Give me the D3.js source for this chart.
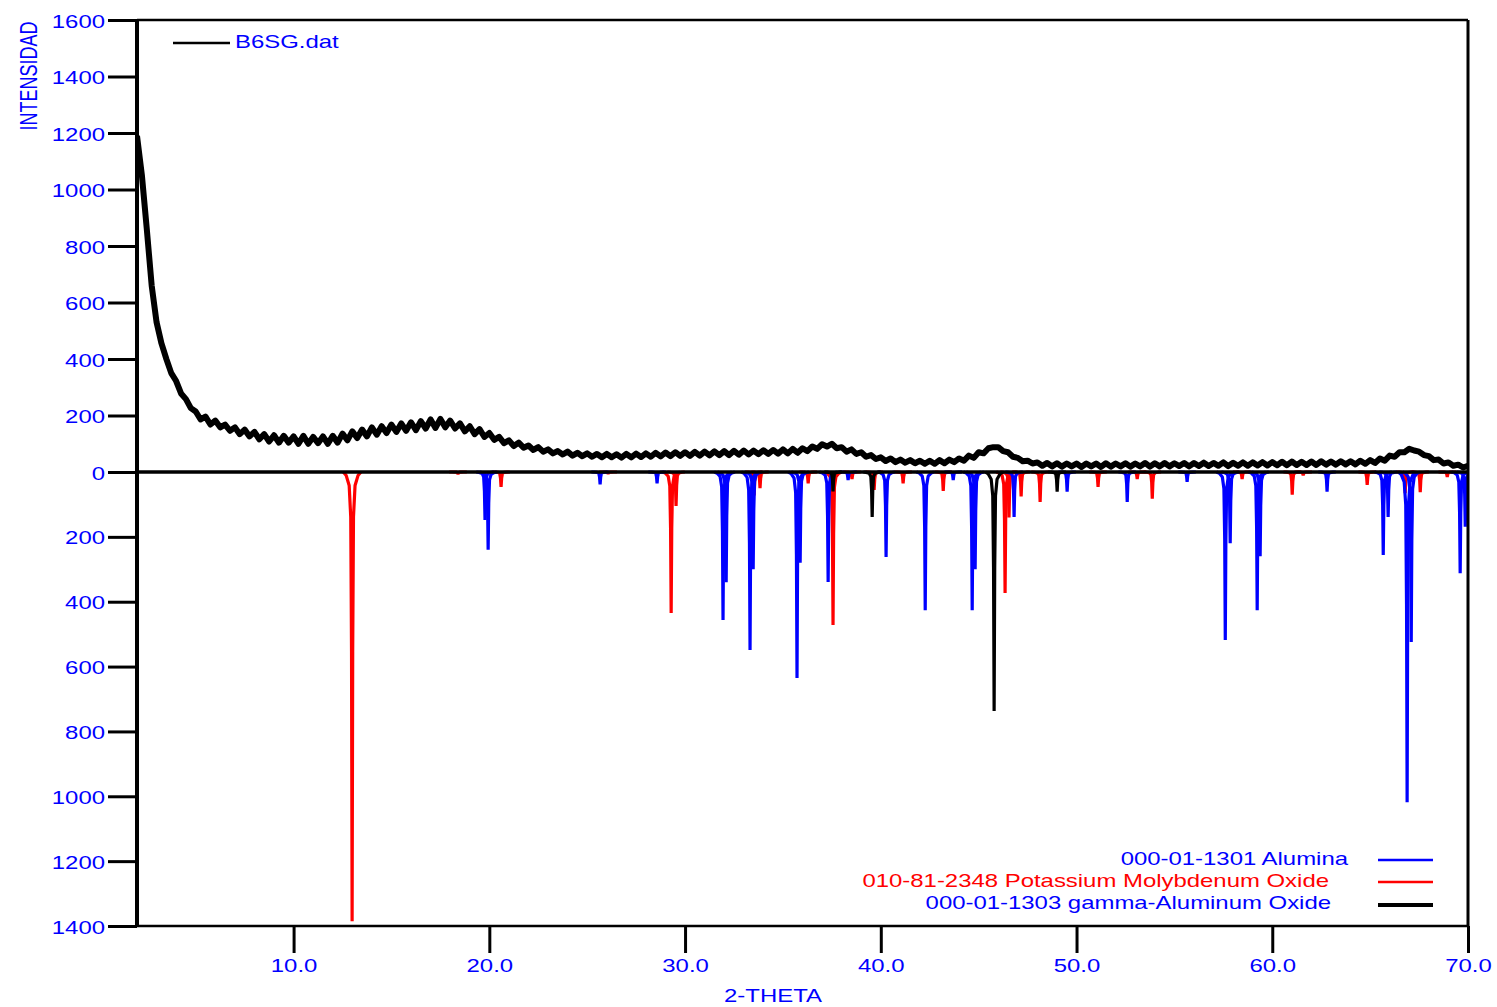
<!DOCTYPE html>
<html>
<head>
<meta charset="utf-8">
<script src="https://cdn.jsdelivr.net/npm/d3@7"></script>
<style>
  body { margin: 0; background: #ffffff; }
  svg text { font-family: "Liberation Sans", Arial, Helvetica, sans-serif; font-size: 18px; }
</style>
</head>
<body>
<div id="chart"></div>
<script>
'use strict';

// -----------------------------------------------------------------------------------
// data (2-theta grid starts at 2.0, step 0.25)
// -----------------------------------------------------------------------------------
var thetaStart = 2.0;
var thetaStep = 0.25;
var obsCounts = [
  1190, 1050, 860, 660, 530, 455, 400, 350,   // 2.00
  322, 278, 258, 226, 214, 186, 196, 168,     // 4.00
  182, 158, 168, 146, 158, 134, 150, 126,     // 6.00
  142, 116, 134, 108, 130, 104, 128, 104,     // 8.00
  126, 100, 128, 100, 124, 102, 126, 100,     // 10.00
  128, 104, 136, 112, 144, 120, 150, 126,     // 12.00
  158, 132, 162, 138, 168, 142, 172, 146,     // 14.00
  176, 148, 180, 154, 186, 156, 188, 158,     // 16.00
  182, 154, 172, 144, 162, 134, 152, 124,     // 18.00
  138, 114, 124, 102, 112, 92, 104, 86,       // 20.00
  94, 78, 88, 72, 80, 66, 74, 62,             // 22.00
  72, 58, 68, 56, 66, 54, 64, 52,             // 24.00
  64, 52, 63, 51, 64, 52, 65, 53,             // 26.00
  66, 54, 68, 55, 69, 56, 70, 57,             // 28.00
  70, 57, 71, 58, 72, 59, 73, 60,             // 30.00
  74, 60, 75, 61, 76, 62, 76, 63,             // 32.00
  77, 64, 78, 65, 80, 66, 82, 68,             // 34.00
  84, 74, 90, 82, 98, 90, 100, 84,            // 36.00
  88, 72, 80, 64, 70, 54, 60, 46,             // 38.00
  52, 39, 48, 35, 44, 33, 42, 31,             // 40.00
  40, 29, 40, 29, 42, 31, 44, 35,             // 42.00
  48, 40, 58, 50, 70, 66, 84, 88,             // 44.00
  88, 74, 70, 54, 50, 38, 40, 30,             // 46.00
  34, 22, 32, 20, 31, 19, 30, 20,             // 48.00
  30, 18, 30, 20, 30, 18, 31, 19,             // 50.00
  30, 20, 31, 19, 30, 20, 32, 19,             // 52.00
  31, 20, 32, 20, 31, 21, 32, 20,             // 54.00
  32, 21, 33, 21, 32, 22, 34, 21,             // 56.00
  33, 22, 34, 22, 34, 23, 35, 23,             // 58.00
  35, 24, 36, 24, 37, 25, 36, 25,             // 60.00
  37, 25, 38, 26, 37, 26, 38, 27,             // 62.00
  38, 27, 40, 29, 42, 32, 48, 40,             // 64.00
  58, 54, 70, 70, 82, 76, 72, 60,             // 66.00
  56, 42, 44, 30, 34, 22, 26, 16,             // 68.00
  22                                          // 70.00
];

// reference card peaks [2-theta, intensity]
var aluminaPeaks = [
  [19.78, 148], [19.94, 240], [25.66, 38], [28.57, 35], [31.94, 456], [32.10, 340],
  [33.32, 549], [33.48, 300], [35.72, 635], [35.88, 280], [37.31, 339], [38.33, 25],
  [40.27, 262], [42.27, 426], [43.70, 25], [44.67, 426], [44.82, 300], [46.81, 139],
  [49.52, 61], [52.59, 92], [55.65, 30], [57.60, 518], [57.85, 220], [59.23, 426],
  [59.38, 260], [62.80, 61], [65.67, 256], [65.92, 139], [66.89, 1018], [67.10, 524],
  [69.60, 312], [69.86, 169]
];
var kmoPeaks = [
  [12.99, 1385], [18.40, 6], [20.60, 46], [26.07, 5], [29.29, 435], [29.54, 105],
  [33.53, 72], [33.83, 50], [36.29, 35], [37.56, 472], [38.53, 22], [39.66, 55],
  [41.14, 35], [43.19, 58], [46.35, 373], [46.55, 140], [47.17, 75], [48.14, 92],
  [51.10, 46], [53.10, 22], [53.87, 82], [58.46, 22], [61.02, 70], [61.58, 10],
  [64.85, 40], [66.79, 65], [67.56, 62], [68.94, 15]
];
var gammaPeaks = [
  [37.56, 60], [39.56, 139], [45.79, 737], [49.01, 61]
];

var xTicks = [10, 20, 30, 40, 50, 60, 70];
var yTicksUp = [0, 200, 400, 600, 800, 1000, 1200, 1400, 1600];
var yTicksDown = [200, 400, 600, 800, 1000, 1200, 1400];

var obsName = 'B6SG.dat';
var cardNames = ['000-01-1301 Alumina', '010-81-2348 Potassium Molybdenum Oxide', '000-01-1303 gamma-Aluminum Oxide'];

// -----------------------------------------------------------------------------------
// layout
// -----------------------------------------------------------------------------------
var W = 1497, H = 1007;
var padLeft = 137, padRight = 1468, padTop = 20, zeroY = 472, padBottom = 926;
var stretch = 1.33;   // the labels of the original are drawn wide
var blue = '#0000ff', red = '#ff0000';

// peak profile: fractions of [2-theta offset, intensity]
var profile = [[-0.45, 0], [-0.3, 0.008], [-0.15, 0.03], [-0.07, 0.1], [-0.03, 0.4], [0, 1],
               [0.03, 0.4], [0.07, 0.1], [0.15, 0.03], [0.3, 0.008], [0.45, 0]];

var x = d3.scaleLinear().domain([2, 70]).range([padLeft, padRight]);
var yUp = d3.scaleLinear().domain([0, 1600]).range([zeroY, padTop]);
var yDown = d3.scaleLinear().domain([0, 1400]).range([zeroY, padBottom]);

var svg = d3.select('#chart').append('svg')
  .attr('width', W)
  .attr('height', H)
  .attr('viewBox', '0 0 ' + W + ' ' + H);

svg.append('rect')
  .attr('width', W)
  .attr('height', H)
  .style('fill', '#ffffff');

function wideText(g, px, py, txt, anchor, color) {
  return g.append('text')
    .attr('transform', 'translate(' + px + ',' + py + ') scale(' + stretch + ',1)')
    .attr('text-anchor', anchor)
    .style('fill', color)
    .text(txt);
}

// clip for the marks
svg.append('clipPath').attr('id', 'plotClip')
  .append('rect')
  .attr('x', padLeft)
  .attr('y', padTop)
  .attr('width', padRight - padLeft)
  .attr('height', padBottom - padTop);

var plot = svg.append('g').attr('clip-path', 'url(#plotClip)');

// reference patterns, drawn downward
var peakLine = d3.line()
  .x(function(d) { return x(d[0]); })
  .y(function(d) { return yDown(d[1]); });

function drawPeaks(peaks, color) {
  plot.append('g').selectAll('path')
    .data(peaks)
    .enter().append('path')
    .attr('d', function(p) {
      return peakLine(profile.map(function(f) { return [p[0] + f[0], p[1] * f[1]]; }));
    })
    .style('fill', 'none')
    .style('stroke', color)
    .style('stroke-width', '3.2px')
    .style('stroke-linejoin', 'bevel');
}
drawPeaks(kmoPeaks, red);
drawPeaks(aluminaPeaks, blue);
drawPeaks(gammaPeaks, '#000000');

// measured pattern
var obsLine = d3.line()
  .x(function(d, i) { return x(thetaStart + i * thetaStep); })
  .y(function(d) { return yUp(d); });

plot.append('path')
  .datum(obsCounts)
  .attr('d', obsLine)
  .style('fill', 'none')
  .style('stroke', '#000000')
  .style('stroke-width', '6px')
  .style('stroke-linejoin', 'round');

// frame
svg.append('line').attr('x1', padLeft).attr('y1', padTop).attr('x2', padRight).attr('y2', padTop)
  .style('stroke', '#000').style('stroke-width', '2.5px');
svg.append('line').attr('x1', padRight).attr('y1', padTop).attr('x2', padRight).attr('y2', padBottom)
  .style('stroke', '#000').style('stroke-width', '3px');
svg.append('line').attr('x1', padLeft).attr('y1', padBottom).attr('x2', padRight).attr('y2', padBottom)
  .style('stroke', '#000').style('stroke-width', '2.5px');
// origin line
svg.append('line').attr('x1', padLeft).attr('y1', zeroY).attr('x2', padRight).attr('y2', zeroY)
  .style('stroke', '#000').style('stroke-width', '3.5px');

// left axis (two scales meeting at zero)
function styleLeft(g) {
  g.select('.domain').remove();
  g.selectAll('.tick line').style('stroke', '#000').style('stroke-width', '3px');
  g.selectAll('.tick text')
    .attr('x', null)
    .attr('dy', null)
    .attr('transform', 'translate(-32,7) scale(' + stretch + ',1)')
    .style('fill', blue)
    .style('font-size', '18px')
    .style('font-family', '"Liberation Sans", Arial, sans-serif');
}
svg.append('g')
  .attr('transform', 'translate(' + padLeft + ',0)')
  .call(d3.axisLeft(yUp).tickValues(yTicksUp).tickSize(29).tickFormat(d3.format('d')))
  .call(styleLeft);
svg.append('g')
  .attr('transform', 'translate(' + padLeft + ',0)')
  .call(d3.axisLeft(yDown).tickValues(yTicksDown).tickSize(29).tickFormat(d3.format('d')))
  .call(styleLeft);

svg.append('line').attr('x1', padLeft).attr('y1', padTop - 1).attr('x2', padLeft).attr('y2', padBottom + 1)
  .style('stroke', '#000').style('stroke-width', '4px');

// bottom axis
var xAxis = svg.append('g')
  .attr('transform', 'translate(0,' + padBottom + ')')
  .call(d3.axisBottom(x).tickValues(xTicks).tickSize(27).tickFormat(d3.format('.1f')));
xAxis.select('.domain').remove();
xAxis.selectAll('.tick line').style('stroke', '#000').style('stroke-width', '3px');
xAxis.selectAll('.tick text')
  .attr('y', null)
  .attr('dy', null)
  .attr('transform', 'translate(0,46) scale(' + stretch + ',1)')
  .style('fill', blue)
  .style('font-size', '18px')
  .style('font-family', '"Liberation Sans", Arial, sans-serif');

// axis titles
wideText(svg, 773, 1002, '2-THETA', 'middle', blue);
svg.append('text')
  .attr('transform', 'translate(37,76) scale(' + stretch + ',1) rotate(-90)')
  .attr('text-anchor', 'middle')
  .style('fill', blue)
  .text('INTENSIDAD');

// legend, measured
svg.append('line').attr('x1', 173).attr('y1', 43).attr('x2', 230).attr('y2', 43)
  .style('stroke', '#000').style('stroke-width', '2.5px');
wideText(svg, 235, 48, obsName, 'start', blue);

// legend, reference cards
var cardText = [
  { y: 865, right: 1348, color: blue, line: blue, lw: 2.5, ly: 860 },
  { y: 887, right: 1329, color: red, line: red, lw: 2.5, ly: 882 },
  { y: 909, right: 1331, color: blue, line: '#000000', lw: 4, ly: 905 }
];
cardText.forEach(function(c, i) {
  wideText(svg, c.right, c.y, cardNames[i], 'end', c.color);
  svg.append('line').attr('x1', 1378).attr('y1', c.ly).attr('x2', 1433).attr('y2', c.ly)
    .style('stroke', c.line).style('stroke-width', c.lw + 'px');
});
</script>
</body>
</html>
